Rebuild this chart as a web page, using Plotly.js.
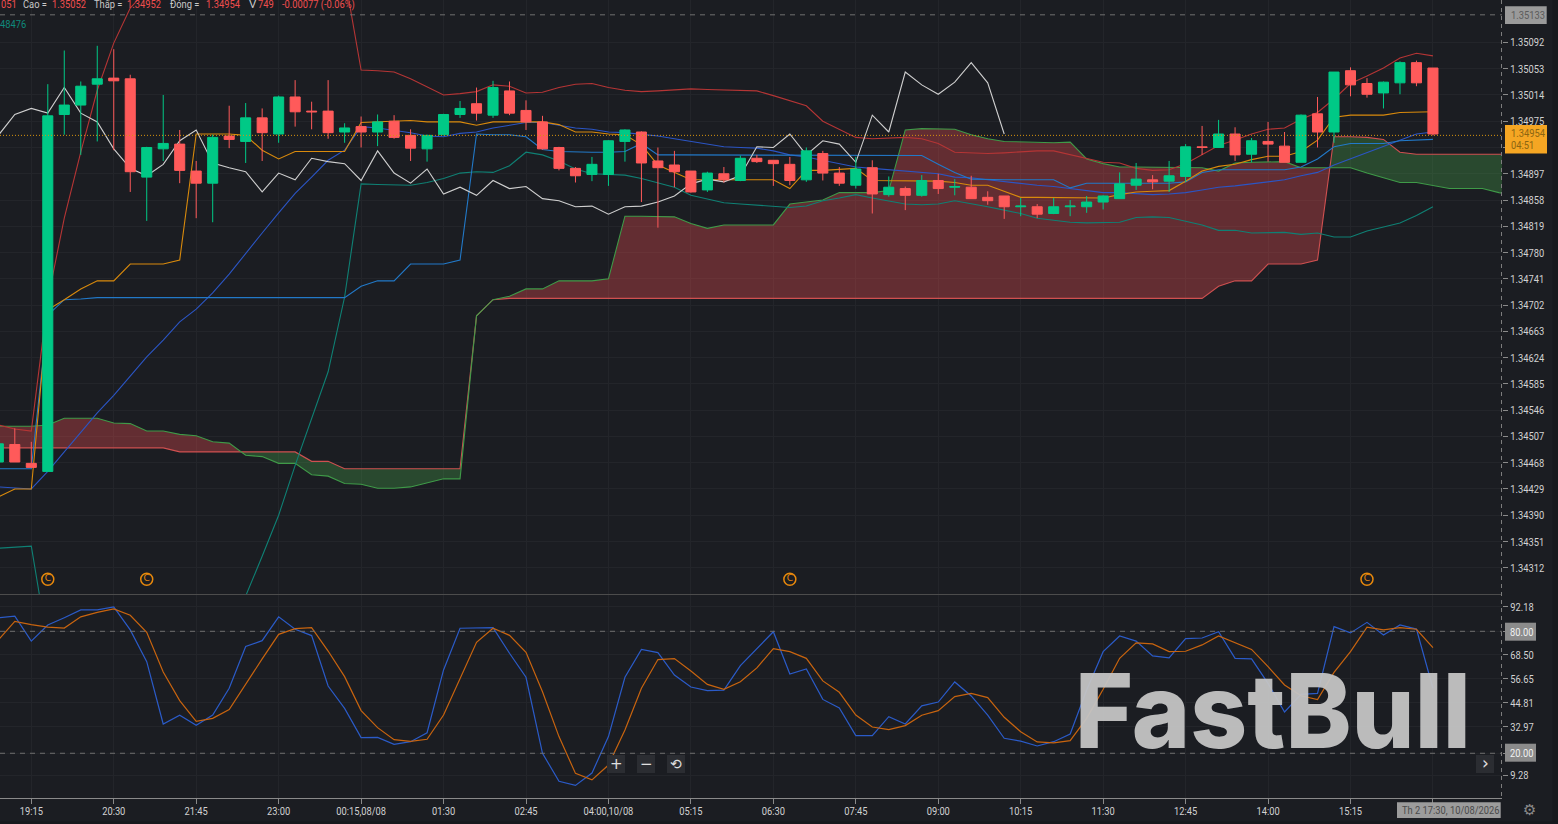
<!DOCTYPE html>
<html><head><meta charset="utf-8">
<script src="https://cdn.plot.ly/plotly-3.0.1.min.js"></script>
<style>html,body{margin:0;padding:0;background:#1b1d22;overflow:hidden}#c{width:1558px;height:824px}</style>
</head><body><div id="c"></div>
<script>
// Prices are in 1/100000 units (134954 = 1.34954). Bars are counted from 19:15 = 0.
const firstBar = -2;
const openPts = [134469,134495,134467,134455,134985,134999,135030,135039,135038,134892,134934,134941,134901,134883,134953,134945,134980,134956,135011,134990,134990,134959,134967,134959,134975,134954,134934,134955,134985,135001,134984,135020,134991,134974,134936,134905,134896,134896,134945,134959,134916,134910,134901,134873,134897,134887,134920,134917,134911,134888,134927,134898,134880,134906,134866,134875,134865,134887,134877,134877,134862,134864,134848,134848,134838,134848,134848,134855,134860,134880,134888,134886,134893,134937,134936,134956,134926,134945,134938,134914,134986,134959,135050,135031,135017,135032,135062,135054];
const closePts = [134496,134469,134461,134983,134999,135027,135038,135035,134900,134936,134942,134902,134883,134951,134948,134980,134958,135011,134989,134989,134958,134965,134959,134974,134951,134935,134954,134985,134994,134987,135025,134987,134974,134934,134905,134894,134911,134946,134962,134913,134906,134900,134870,134898,134888,134920,134915,134912,134887,134931,134898,134883,134904,134867,134877,134865,134887,134875,134878,134860,134857,134848,134849,134837,134848,134849,134855,134864,134882,134889,134885,134894,134937,134936,134956,134925,134946,134941,134914,134984,134959,135048,135029,135015,135033,135062,135032,134956];
const highPts = [134502,134519,134499,135030,135080,135034,135087,135082,135044,134937,135014,134962,134916,134955,134998,135002,134994,135013,135036,135004,135036,134972,134982,134985,134984,134963,134955,134986,135005,135025,135035,135034,135006,134983,134937,134907,134922,134947,134963,134960,134936,134931,134901,134900,134907,134924,134925,134917,134922,134936,134931,134907,134922,134917,134893,134878,134895,134897,134889,134894,134871,134864,134861,134852,134861,134858,134864,134865,134899,134913,134895,134916,134941,134968,134977,134966,134950,134974,134959,134985,135011,135048,135055,135039,135034,135064,135065,135054];
const lowPts = [134457,134469,134461,134455,134955,134925,134945,134932,134870,134827,134916,134883,134831,134825,134935,134913,134916,134943,134967,134963,134949,134943,134936,134938,134949,134916,134915,134954,134980,134976,134980,134984,134962,134933,134902,134884,134886,134879,134915,134855,134817,134877,134869,134870,134884,134886,134913,134879,134880,134885,134887,134879,134875,134838,134863,134843,134863,134867,134865,134860,134851,134830,134834,134831,134837,134834,134839,134844,134860,134873,134874,134870,134885,134925,134936,134916,134914,134915,134914,134914,134936,134943,135012,135010,134994,135015,135027,134954];
const chikouPts = [134954,134985,134994,134987,135025,134987,134974,134934,134905,134894,134911,134946,134962,134913,134906,134900,134870,134898,134888,134920,134915,134912,134887,134931,134898,134883,134904,134867,134877,134865,134887,134875,134878,134860,134857,134848,134849,134837,134848,134849,134855,134864,134882,134889,134885,134894,134937,134936,134956,134925,134946,134941,134914,134984,134959,135048,135029,135015,135033,135062,135032,134956];
const upperPts = [134524,134518,134515,134710,134831,134929,135021,135091,135143,135170,135190,135200,135210,135215,135215,135215,135215,135215,135215,135215,135215,135191,135051,135050,135048,135038,135026,135014,135016,135019,135029,135027,135017,135018,135025,135030,135031,135025,135021,135019,135020,135021,135023,135022,135021,135021,135020,135013,135005,134998,134975,134963,134951,134949,134950,134951,134949,134942,134929,134928,134927,134928,134930,134931,134931,134925,134919,134914,134913,134905,134902,134903,134912,134925,134939,134947,134956,134963,134965,134978,134988,135008,135031,135042,135054,135069,135076,135072];
const lowerPts = [134341,134343,134344,134197,134150,134120,134100,134090,134080,134080,134090,134100,134120,134150,134190,134270,134329,134390,134464,134534,134603,134714,134882,134881,134880,134880,134884,134890,134898,134900,134899,134909,134929,134925,134916,134904,134897,134896,134895,134890,134884,134877,134865,134860,134854,134852,134850,134849,134847,134849,134857,134861,134866,134861,134857,134852,134851,134852,134857,134853,134848,134843,134838,134831,134828,134825,134824,134825,134825,134832,134833,134832,134826,134821,134813,134813,134809,134809,134810,134807,134809,134803,134803,134812,134818,134824,134835,134848];
const middlePts = [134432,134430,134429,134455,134484,134513,134542,134568,134597,134625,134650,134677,134696,134720,134748,134779,134809,134839,134868,134892,134917,134932,134967,134965,134962,134958,134953,134952,134957,134959,134965,134969,134973,134973,134969,134965,134963,134959,134958,134956,134953,134949,134945,134941,134937,134936,134935,134931,134925,134922,134917,134911,134907,134905,134903,134901,134900,134897,134892,134891,134888,134885,134883,134880,134878,134875,134872,134869,134869,134867,134866,134867,134869,134873,134877,134879,134882,134885,134888,134894,134899,134910,134919,134929,134937,134947,134956,134959];
const tenkanPts = [134417,134429,134429,134695,134710,134726,134738,134738,134763,134763,134763,134769,134956,134956,134956,134954,134932,134919,134930,134930,134930,134930,134973,134974,134976,134976,134974,134974,134974,134969,134974,134974,134974,134974,134970,134959,134959,134956,134955,134940,134910,134899,134888,134888,134888,134888,134888,134888,134875,134902,134902,134903,134905,134887,134887,134887,134887,134886,134884,134880,134880,134871,134862,134862,134862,134861,134861,134861,134866,134870,134871,134872,134886,134901,134908,134911,134918,134923,134923,134930,134947,134981,134984,134984,134984,134988,134989,134989];
const kijunPts = [134459,134459,134459,134687,134710,134711,134713,134713,134713,134713,134713,134713,134713,134713,134713,134713,134713,134713,134713,134713,134713,134713,134730,134738,134738,134763,134763,134763,134769,134956,134955,134955,134952,134933,134930,134929,134929,134929,134930,134942,134925,134925,134925,134925,134925,134925,134925,134925,134925,134925,134925,134925,134925,134925,134925,134925,134924,134911,134899,134889,134888,134888,134888,134888,134888,134876,134883,134883,134883,134883,134883,134883,134885,134899,134903,134903,134903,134903,134903,134907,134919,134937,134942,134942,134942,134946,134947,134948];
const spanAPts = [134522,134522,134522,134524,134534,134534,134534,134527,134526,134515,134515,134510,134508,134499,134497,134479,134477,134467,134467,134450,134448,134437,134436,134430,134430,134432,134438,134444,134444,134686,134710,134715,134726,134726,134738,134738,134738,134741,134834,134834,134834,134833,134823,134816,134821,134821,134821,134821,134852,134855,134858,134869,134869,134869,134872,134962,134964,134964,134963,134955,134949,134945,134944,134943,134943,134944,134919,134912,134907,134907,134907,134907,134907,134906,134901,134913,134914,134914,134915,134906,134906,134906,134906,134898,134891,134884,134884,134880,134875,134875,134875,134869,134865];
const spanBPts = [134490,134490,134490,134490,134490,134490,134490,134490,134490,134490,134490,134484,134484,134484,134484,134484,134484,134484,134484,134470,134470,134459,134459,134459,134459,134459,134459,134459,134459,134686,134710,134712,134712,134712,134712,134712,134712,134712,134712,134712,134712,134712,134712,134712,134712,134712,134712,134712,134712,134712,134712,134712,134712,134712,134712,134712,134712,134712,134712,134712,134712,134712,134712,134712,134712,134712,134712,134712,134712,134712,134712,134712,134712,134712,134730,134738,134738,134763,134763,134763,134769,134952,134952,134951,134948,134929,134926,134926,134926,134926,134926,134926,134926];
const stochK = [86.7,87.5,75.2,83.1,86.7,90.5,90.5,92.0,80.7,65.1,34.4,38.7,33.8,38.8,52.0,72.5,75.4,87.1,81.0,77.9,53.1,42.1,27.7,27.8,24.4,25.7,30.1,61.0,81.5,81.8,81.8,69.2,57.4,20.0,6.2,4.2,10.3,28.2,57.4,71.1,69.5,58.5,52.6,50.8,51.1,63.1,71.3,79.8,59.0,61.5,46.5,42.3,28.7,28.7,38.0,34.4,43.3,45.2,55.1,48.2,38.8,27.4,26.0,23.6,25.7,29.5,51.1,70.0,77.7,75.2,67.9,66.9,76.4,76.7,79.8,66.7,66.4,54.4,40.3,49.0,49.5,82.3,79.2,84.4,78.2,83.1,81.1,52.0];
const stochD = [75.7,84.9,83.3,82.1,81.6,87.1,89.3,91.0,87.9,79.5,60.0,45.9,35.7,37.2,41.5,54.1,66.4,78.5,81.3,81.8,70.3,57.7,41.0,32.6,26.7,25.9,26.9,38.8,56.9,74.6,81.5,78.0,69.7,50.3,28.2,10.1,6.9,14.2,31.5,52.0,66.1,66.6,60.5,53.9,51.5,55.2,62.0,71.5,70.0,66.7,55.6,50.0,38.8,32.9,31.6,33.6,38.7,41.0,47.9,49.5,47.4,37.7,30.6,25.6,25.1,26.2,37.2,51.5,66.7,74.3,73.8,70.0,70.2,73.3,77.7,74.4,71.1,62.6,53.6,48.3,46.4,59.8,70.0,82.0,80.7,81.8,81.0,72.0];
const timeTickBars = [0,5,10,15,20,25,30,35,40,45,50,55,60,65,70,75,80,85];
const timeTickLabels = ['19:15','20:30','21:45','23:00','00:15,08/08','01:30','02:45','04:00,10/08','05:15','06:30','07:45','09:00','10:15','11:30','12:45','14:00','15:15',''];
const priceTicks = [135092,135053,135014,134975,134936,134897,134858,134819,134780,134741,134702,134663,134624,134585,134546,134507,134468,134429,134390,134351,134312];
const priceTickHidden = 134936; // sits behind the live price box in the reference
const stochTicks = [92.18,80,68.5,56.65,44.81,32.97,20,9.28];
const stochTickLabels = ['92.18','80.00','68.50','56.65','44.81','32.97','20.00','9.28'];
const markerBars = [1,7,46,81];
const markerLevel = 134295;
const lastPricePts = 134954, highLinePts = 135133;

const P = v => v/100000;
const prices = a => a.map(P);
const bars = (a,from=firstBar) => a.map((_,i)=>i+from);
const W = 1558, H = 824;
const px = x => x/W, py = y => 1-y/H;
const FONT = 'Roboto,sans-serif';
const BG = '#1b1d22';
const GRID = '#23252a';

// Cloud: one closed polygon per run where span A stays on the same side of span B.
function cloud(){
  const x = bars(spanAPts), out = [];
  let run = {xs:[],a:[],b:[],up:null};
  const flush = () => { if(run.xs.length>1){ out.push({
      type:'scatter',mode:'none',hoverinfo:'skip',showlegend:false,fill:'toself',
      x:run.xs.concat(run.xs.slice().reverse()),
      y:run.a.concat(run.b.slice().reverse()).map(P),
      fillcolor: run.up ? 'rgba(252,82,84,0.32)' : 'rgba(76,175,80,0.30)'
    }); } };
  for(let i=0;i<x.length;i++){
    const d = spanAPts[i]-spanBPts[i], up = d>=0;
    if(run.up!==null && up!==run.up && d!==0){
      const d0 = spanAPts[i-1]-spanBPts[i-1], f = d0/(d0-d);
      const cx = x[i-1]+f, cy = spanAPts[i-1]+f*(spanAPts[i]-spanAPts[i-1]);
      run.xs.push(cx);run.a.push(cy);run.b.push(cy);flush();
      run = {xs:[cx],a:[cy],b:[cy],up};
    }
    if(run.up===null) run.up = up;
    run.xs.push(x[i]);run.a.push(spanAPts[i]);run.b.push(spanBPts[i]);
  }
  flush();
  return out;
}
const line = (y,color,from,yx='y',xx='x',w=1.1) => ({type:'scatter',mode:'lines',hoverinfo:'skip',showlegend:false,
  x:bars(y,from),y,xaxis:xx,yaxis:yx,line:{color,width:w,shape:'linear'}});

const traces = [
  ...cloud(),
  line(prices(spanBPts),'#cf5050'),
  line(prices(spanAPts),'#3f9a48'),
  line(prices(upperPts),'#b53535'),
  line(prices(lowerPts),'#0f8074'),
  line(prices(middlePts),'#2b55c4'),
  line(prices(kijunPts),'#2279c8'),
  line(prices(tenkanPts),'#d98a0c'),
  line(prices(chikouPts),'#cfcfcf'),
  line(stochK,'#2b5bc8',firstBar,'y2','x',1.2),
  line(stochD,'#c8640f',firstBar,'y2','x',1.2),
  {type:'candlestick',xaxis:'x3',yaxis:'y3',hoverinfo:'skip',showlegend:false,whiskerwidth:0,
   x:bars(openPts),open:prices(openPts),high:prices(highPts),low:prices(lowPts),close:prices(closePts),
   increasing:{line:{color:'#00c986',width:1},fillcolor:'#00c986'},
   decreasing:{line:{color:'#ff5a5a',width:1},fillcolor:'#ff5a5a'}},
  {type:'scatter',mode:'markers+text',hoverinfo:'skip',showlegend:false,xaxis:'x3',yaxis:'y3',
   x:markerBars,y:markerBars.map(()=>P(markerLevel)),text:markerBars.map(()=>'C'),textposition:'middle center',
   textfont:{family:'"DejaVu Sans"',size:9,color:'#e8890c'},
   marker:{symbol:'circle-open',size:12,color:'#e8890c',line:{width:1.5,color:'#e8890c'}}}
];

const xRange = [(0-31.3)/16.49,(1502-31.3)/16.49];
const yRange = [P(134273),P(135155)];
const fs = 11.5;
const tickStyle = {tickfont:{family:FONT,size:fs,color:'#d2d2d2'},ticks:'outside',ticklen:5,tickcolor:'#8a8a8a',tickwidth:1};

function note(text,x,y,color,opt={}){
  return Object.assign({text,x:px(x),y:py(y),xref:'paper',yref:'paper',xanchor:'left',yanchor:'middle',
    showarrow:false,align:'left',borderpad:0,font:{family:FONT,size:fs,color}},opt);
}
const rect = (x0,y0,x1,y1,fill) => ({type:'rect',xref:'paper',yref:'paper',x0:px(x0),x1:px(x1),y0:py(y0),y1:py(y1),
  fillcolor:fill,line:{width:0},layer:'above'});
const pline = (x0,y0,x1,y1,color,dash) => ({type:'line',xref:'paper',yref:'paper',x0:px(x0),x1:px(x1),y0:py(y0),y1:py(y1),
  line:{color,width:1,dash:dash||'solid'},layer:'above'});

const shapes = [
  rect(1552.5,0,1558,824,'#17191d'),
  rect(0,821.5,1558,824,'#17191d'),
  pline(0,594.5,1502,594.5,'#4c4c4c'),
  pline(1501.5,0,1501.5,798,'#7d7d7d','4px,4px'),
  {type:'line',xref:'paper',yref:'y',x0:0,x1:px(1502),y0:P(highLinePts),y1:P(highLinePts),line:{color:'#6f6f6f',width:1,dash:'5px,5px'},layer:'above'},
  {type:'line',xref:'paper',yref:'y',x0:0,x1:px(1502),y0:P(lastPricePts),y1:P(lastPricePts),line:{color:'#d7930f',width:1,dash:'1px,2px'},layer:'above'},
  {type:'line',xref:'paper',yref:'y2',x0:0,x1:px(1502),y0:80,y1:80,line:{color:'#6f6f6f',width:1,dash:'5px,5px'},layer:'above'},
  {type:'line',xref:'paper',yref:'y2',x0:0,x1:px(1502),y0:20,y1:20,line:{color:'#6f6f6f',width:1,dash:'5px,5px'},layer:'above'},
  rect(1505,6.3,1546.7,24,'#9a9a9a'),
  rect(1505,125,1547,153.5,'#f5a623'),
  rect(1505,622.7,1536,640.7,'#8b8b8b'),
  rect(1505,743.7,1536,761.7,'#8b8b8b'),
  rect(1397,802.3,1500.7,818,'#9c9c9c'),
  rect(607,755,625,773,'#2b2d32'),
  rect(637,755,655,773,'#2b2d32'),
  rect(667,755,685,773,'#2b2d32'),
  rect(1476,755,1494,773,'#2b2d32')
];

const red = '#f04e4e', grey = '#c9c9c9';
const annotations = [
  note('051',0,4.5,red), note('Cao =',21.5,4.5,grey), note('1.35052',50.5,4.5,red),
  note('Thấp =',93,4.5,grey), note('1.34952',126,4.5,red), note('Đóng =',169,4.5,grey),
  note('1.34954',205,4.5,red), note('V',247.5,4.5,grey), note('749',256.5,4.5,red),
  note('-0.00077 (-0.06%)',281,4.5,red),
  note('48476',-1,24.5,'#0f8a7c'),
  note('1.35133',1509.5,15,'#5c5c5c'),
  note('1.34954',1509.5,133,'#8a6512'),
  note('04:51',1509.5,145,'#8a6512'),
  note('80.00',1509,631.5,'#f2f2f2'),
  note('20.00',1509,752.5,'#f2f2f2'),
  note('Th 2 17:30, 10/08/2026',1401,810,'#4a4a4a'),
  note('+',616,763.5,'#e0e0e0',{xanchor:'center',font:{family:'"DejaVu Sans"',size:15,color:'#e0e0e0'}}),
  note('−',646,763.5,'#e0e0e0',{xanchor:'center',font:{family:'"DejaVu Sans"',size:15,color:'#e0e0e0'}}),
  note('⟲',676,764,'#e0e0e0',{xanchor:'center',font:{family:'"DejaVu Sans"',size:14,color:'#e0e0e0'}}),
  note('›',1485,762.5,'#e0e0e0',{xanchor:'center',font:{family:'"DejaVu Sans"',size:17,color:'#e0e0e0'}}),
  note('⚙',1529,809.5,'#8a8a8a',{xanchor:'center',font:{family:'"DejaVu Sans"',size:15,color:'#8a8a8a'}}),
  note('FastBull',1074,710,'#c2c2c2',{font:{family:'Inter',size:103,weight:800,color:'rgba(196,196,196,0.95)'}})
];

const layout = {
  width:W,height:H,margin:{l:0,r:0,t:0,b:0},paper_bgcolor:BG,plot_bgcolor:BG,showlegend:false,dragmode:false,
  xaxis:Object.assign({},tickStyle,{domain:[0,1502/W],range:xRange,anchor:'y2',tickmode:'array',tickvals:timeTickBars,ticktext:timeTickLabels,ticklabelstandoff:-3,
    showgrid:true,gridcolor:GRID,gridwidth:1,zeroline:false,showline:true,linecolor:'#8a8a8a',linewidth:1,fixedrange:true,tickangle:0}),
  yaxis:Object.assign({},tickStyle,{domain:[1-594/H,1],range:yRange,side:'right',anchor:'x',tickmode:'array',tickvals:priceTicks.map(P),
    ticktext:priceTicks.map(v=>v===priceTickHidden?' ':P(v).toFixed(5)),showgrid:true,gridcolor:GRID,zeroline:false,fixedrange:true}),
  yaxis2:Object.assign({},tickStyle,{domain:[26/H,229/H],range:[-2,97.86],side:'right',anchor:'x',tickmode:'array',tickvals:stochTicks,
    ticktext:stochTickLabels,showgrid:true,gridcolor:GRID,zeroline:false,fixedrange:true}),
  xaxis3:{overlaying:'x',anchor:'y3',range:xRange,visible:false,fixedrange:true,rangeslider:{visible:false}},
  yaxis3:{overlaying:'y',anchor:'x3',range:yRange,visible:false,fixedrange:true,side:'right'},
  boxgap:0.39,boxgroupgap:0,
  shapes,annotations
};
Plotly.newPlot('c',traces,layout,{staticPlot:true,displayModeBar:false,responsive:false}).then(gd=>{
  // The original uses a narrow face; squeeze the Roboto labels to the same run length.
  gd.querySelectorAll('.xtick text,.ytick text,.y2tick text,.annotation-text').forEach(t=>{
    const s = t.textContent;
    if(s.trim().length<2) return;
    t.setAttribute('lengthAdjust','spacingAndGlyphs');
    t.setAttribute('textLength', s==='FastBull' ? 396 : (t.getComputedTextLength()*0.81).toFixed(1));
  });
});
</script></body></html>
